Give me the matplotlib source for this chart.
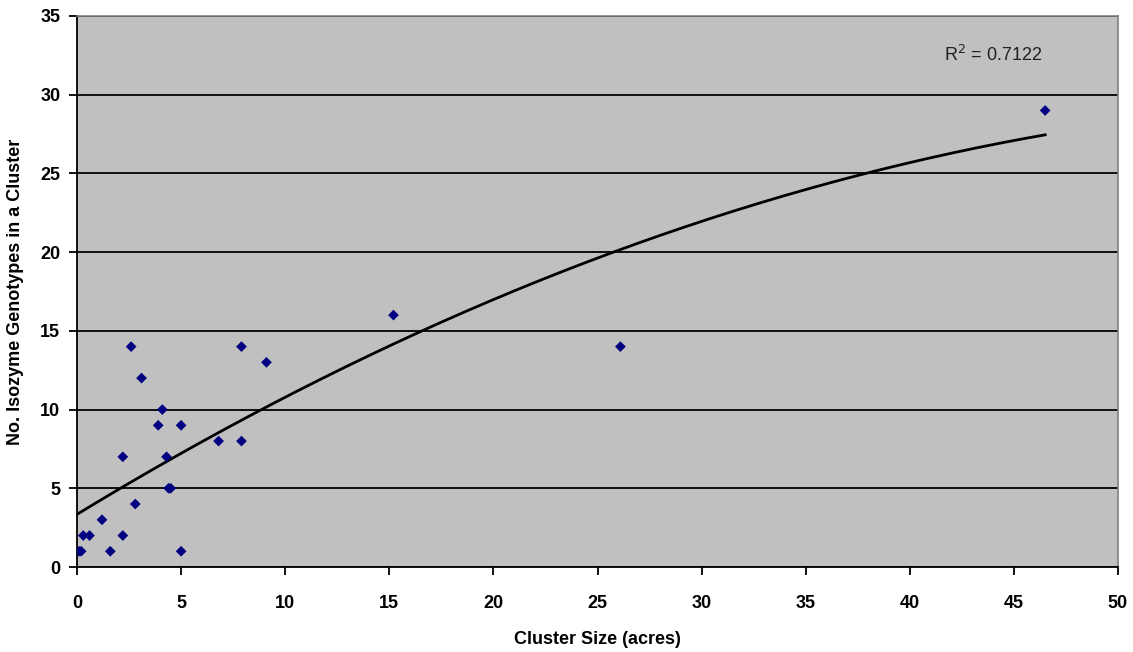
import numpy as np
import matplotlib
matplotlib.use("Agg")
import matplotlib.pyplot as plt

# Data
cluster_size = [0.1, 0.2, 0.3, 0.6, 1.2, 1.6, 2.2, 2.2, 2.6, 2.8, 3.1, 3.9, 4.1,
                4.3, 4.4, 4.5, 5.0, 5.0, 6.8, 7.9, 7.9, 9.1, 15.2, 26.1, 46.5]
genotypes = [1, 1, 2, 2, 3, 1, 2, 7, 14, 4, 12, 9, 10,
             7, 5, 5, 9, 1, 8, 8, 14, 13, 16, 14, 29]
x_ticks = [0, 5, 10, 15, 20, 25, 30, 35, 40, 45, 50]
y_ticks = [0, 5, 10, 15, 20, 25, 30, 35]
r2_label = "R$^2$ = 0.7122"

plt.rcParams['font.family'] = ['Liberation Sans', 'DejaVu Sans']

fig = plt.figure(figsize=(11.33, 6.52), dpi=100)
ax = fig.add_axes([77/1133, 1 - 567/652, (1118-77)/1133, (567-16)/652])
ax.set_facecolor('#C0C0C0')

ax.set_xlim(0, 50)
ax.set_ylim(0, 35)
ax.set_xticks(x_ticks)
ax.set_yticks(y_ticks)
ax.yaxis.grid(True, color='black', linewidth=1.3)
ax.set_axisbelow(True)

for s in ['top', 'right']:
    ax.spines[s].set_color('#808080')
    ax.spines[s].set_linewidth(1.2)
for s in ['left', 'bottom']:
    ax.spines[s].set_color('black')
    ax.spines[s].set_linewidth(1.3)

ax.tick_params(direction='out', length=6, width=1.3, labelsize=13)
ax.tick_params(axis='x', pad=14)
ax.tick_params(axis='y', pad=6)
for lab in ax.get_xticklabels() + ax.get_yticklabels():
    lab.set_fontweight('bold')

# Quadratic trendline fitted to the data
coef = np.polyfit(cluster_size, genotypes, 2)
xs = np.linspace(0, max(cluster_size), 200)
ax.plot(xs, np.polyval(coef, xs), color='black', linewidth=2, zorder=3)

ax.scatter(cluster_size, genotypes, marker='D', s=30, color='#000080',
           edgecolors='none', zorder=4)

ax.text(0.88, 0.93, r2_label, transform=ax.transAxes, ha='center', va='center',
        fontsize=13, color='#222222')

ax.set_xlabel('Cluster Size (acres)', fontsize=13, fontweight='bold', labelpad=14)
ax.set_ylabel('No. Isozyme Genotypes in a Cluster', fontsize=13,
              fontweight='bold', labelpad=12)

fig.savefig('out.png', dpi=100)
